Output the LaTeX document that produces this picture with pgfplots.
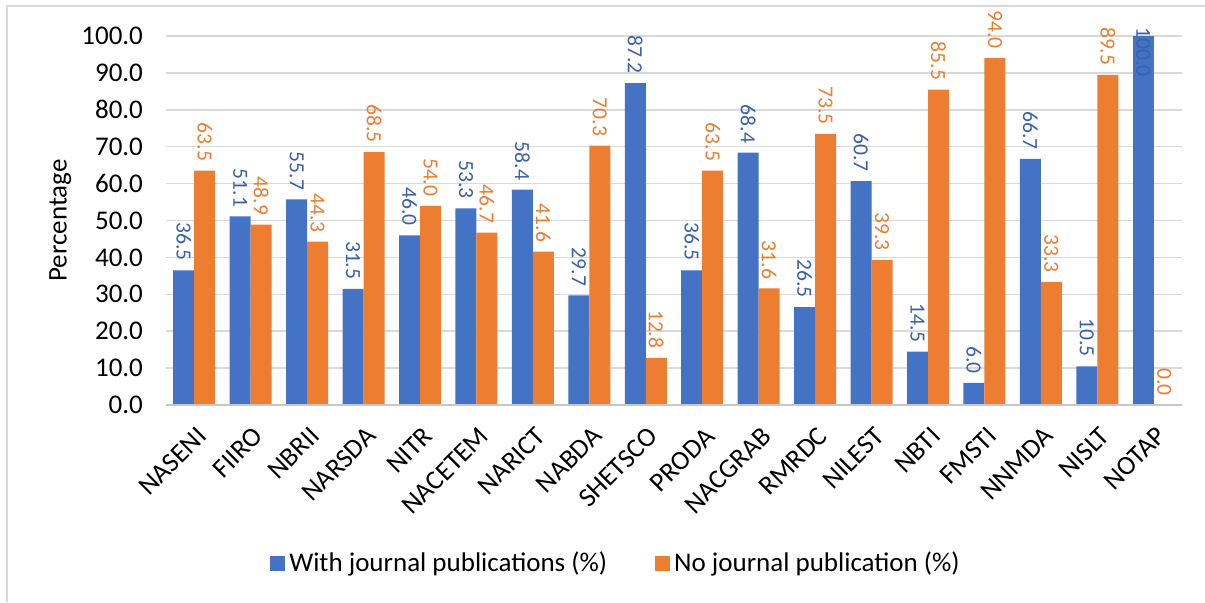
\documentclass[border=0pt]{standalone}
\usepackage{pgfplots}
\pgfplotsset{compat=1.18}
\usepackage{pgfplotstable}
\usepackage{fontspec}
\setmainfont{Carlito}
\definecolor{cblue}{HTML}{4472C4}
\definecolor{corange}{HTML}{ED7D31}
\definecolor{cgrid}{HTML}{D9D9D9}

\pgfplotstableread{
x with no
0 36.5 63.5
1 51.1 48.9
2 55.7 44.3
3 31.5 68.5
4 46.0 54.0
5 53.3 46.7
6 58.4 41.6
7 29.7 70.3
8 87.2 12.8
9 36.5 63.5
10 68.4 31.6
11 26.5 73.5
12 60.7 39.3
13 14.5 85.5
14 6.0 94.0
15 66.7 33.3
16 10.5 89.5
}\datatable

\begin{document}
\begin{tikzpicture}
\begin{axis}[
  name=ax,
  scale only axis,
  width=508pt, height=184.5pt,
  ybar, bar width=10.5pt,
  xmin=-0.5, xmax=17.5,
  ymin=0, ymax=100,
  ytick={0,10,...,100},
  xtick={0,...,17},
  xticklabels={NASENI,FIIRO,NBRII,NARSDA,NITR,NACETEM,NARICT,NABDA,SHETSCO,PRODA,NACGRAB,RMRDC,NILEST,NBTI,FMSTI,NNMDA,NISLT,NOTAP},
  font=\fontsize{13.5}{16}\selectfont,
  /pgf/number format/assume math mode=true,
  yticklabel style={/pgf/number format/fixed, /pgf/number format/fixed zerofill, /pgf/number format/precision=1, xshift=-8pt},
  xticklabel style={yshift=-9pt, xshift=4pt, rotate=45, anchor=east, inner sep=0pt},
  axis line style={draw=none},
  tick style={draw=none},
  ymajorgrids,
  grid style={cgrid, line width=0.75pt},
  ylabel={Percentage},
  ylabel style={at={(axis description cs:-0.104,0.5)}, anchor=center},
  clip=false,
  nodes near coords,
  nodes near coords style={font=\fontsize{10.8}{12}\selectfont, /pgf/number format/fixed, /pgf/number format/fixed zerofill, /pgf/number format/precision=1, /pgf/number format/assume math mode=true},
  legend style={at={(225.5pt,-79pt)}, anchor=center, draw=none, legend columns=2, font=\fontsize{13.5}{16}\selectfont,
    /tikz/every even column/.append style={column sep=22pt}},
  legend image code/.code={\fill[#1] (0pt,-3.75pt) rectangle (7.5pt,3.75pt);},
]
\addplot[fill=cblue, draw=none, bar shift=-5.25pt,
  every node near coord/.append style={text=cblue!85!black, yshift=4.5pt, rotate=-90, anchor=east, inner sep=0pt}]
  table[x=x, y=with] {\datatable};
\addlegendentry{With journal publications (\%)}
\addplot[fill=corange, draw=none, bar shift=5.25pt,
  every node near coord/.append style={text=corange, yshift=4.5pt, rotate=-90, anchor=east, inner sep=0pt}]
  table[x=x, y=no] {\datatable};
\addlegendentry{No journal publication (\%)}
\addplot[fill=cblue, draw=none, bar shift=-5.25pt, forget plot,
  every node near coord/.append style={text=cblue!85!black, yshift=4.5pt, rotate=-90, anchor=west, inner sep=0pt}]
  coordinates {(17,100.0)};
\addplot[fill=corange, draw=none, bar shift=5.25pt, forget plot,
  every node near coord/.append style={text=corange, yshift=4.5pt, rotate=-90, anchor=east, inner sep=0pt}]
  coordinates {(17,0.0)};
\draw[cgrid!80!gray, line width=1pt] (axis cs:-0.5,0) -- (axis cs:17.5,0);
\end{axis}
\useasboundingbox (ax.south west) ++(-83pt,-98.5pt) rectangle ++(602.5pt,301pt);
\draw[cgrid, line width=0.6pt] ([xshift=-79.5pt, yshift=-98.5pt]ax.south west) -- ([xshift=-79.5pt, yshift=15pt]ax.north west) -- ([xshift=12pt, yshift=15pt]ax.north east);
\end{tikzpicture}
\end{document}
